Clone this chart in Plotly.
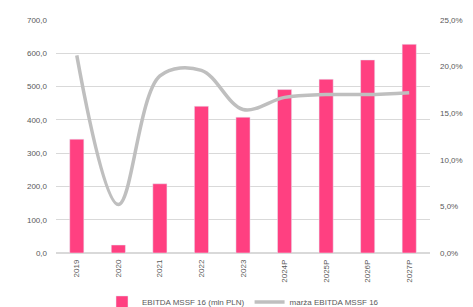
import plotly.graph_objects as go

years = ["2019", "2020", "2021", "2022", "2023", "2024P", "2025P", "2026P", "2027P"]
ebitda = [342, 24, 208, 441, 408, 491, 522, 580, 627]
margin = [0.212, 0.052, 0.190, 0.196, 0.154, 0.167, 0.170, 0.170, 0.172]

fig = go.Figure()
fig.add_trace(go.Bar(
    x=years, y=ebitda, name="EBITDA MSSF 16 (mln PLN)",
    marker=dict(color="#FF4081"), width=0.34, yaxis="y"))
fig.add_trace(go.Scatter(
    x=years, y=margin, name="marża EBITDA MSSF 16", mode="lines",
    line=dict(color="#BFBFBF", width=3.5, shape="spline", smoothing=1.0),
    yaxis="y2"))

tick_font = dict(family="Liberation Sans, Arial, sans-serif", size=8, color="#595959")
fig.update_layout(
    width=473, height=307,
    margin=dict(l=48, r=51, t=12, b=62, autoexpand=False),
    paper_bgcolor="white", plot_bgcolor="white",
    separators=", ",
    showlegend=True,
    legend=dict(orientation="h", x=0.5, xanchor="center", y=-0.21, yanchor="middle",
                font=dict(family="Liberation Sans, Arial, sans-serif", size=8, color="#595959"),
                itemwidth=30),
    xaxis=dict(tickangle=-90, tickfont=tick_font, showgrid=False, showline=False,
               ticks="", automargin=False, ticklabelstandoff=4),
    yaxis=dict(range=[0, 700], dtick=100, tickformat=".1f", tickfont=tick_font,
               gridcolor="#D9D9D9", gridwidth=1, zeroline=True, zerolinecolor="#D9D9D9",
               showline=False, ticks="", ticklabelstandoff=8, automargin=False),
    yaxis2=dict(range=[0, 0.25], dtick=0.05, tickformat=".1%", tickfont=tick_font,
                overlaying="y", side="right", showgrid=False, zeroline=False,
                showline=False, ticks="", ticklabelstandoff=9, automargin=False),
)
fig.write_html("out.html")
